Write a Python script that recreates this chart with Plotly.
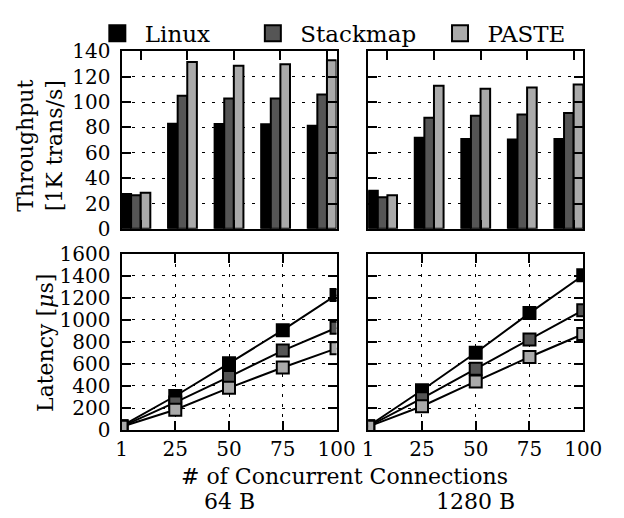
import plotly.graph_objects as go

# ---------------- data ----------------
conns = ["1", "25", "50", "75", "100"]
series = ["Linux", "Stackmap", "PASTE"]
sizes = ["64 B", "1280 B"]

tput_64_linux = [27.5, 83, 82.7, 82.5, 81.4]
tput_64_stackmap = [26.5, 105, 102.8, 102.8, 106]
tput_64_paste = [28.5, 131.7, 128.7, 130, 133]
tput_1280_linux = [30, 72, 71, 70.6, 71]
tput_1280_stackmap = [25, 87.7, 89.2, 90.2, 91.5]
tput_1280_paste = [26.5, 112.9, 110.6, 111.6, 114]

lat_64_linux = [35, 309, 605, 906, 1226]
lat_64_stackmap = [32, 251, 482, 721, 928]
lat_64_paste = [30, 184, 383, 568, 741]
lat_1280_linux = [35, 361, 701, 1061, 1404]
lat_1280_stackmap = [33, 288, 556, 822, 1087]
lat_1280_paste = [31, 216, 441, 663, 871]

colors = ["#000000", "#555555", "#aaaaaa"]

tput = [
    [tput_64_linux, tput_64_stackmap, tput_64_paste],
    [tput_1280_linux, tput_1280_stackmap, tput_1280_paste],
]
lat = [
    [lat_64_linux, lat_64_stackmap, lat_64_paste],
    [lat_1280_linux, lat_1280_stackmap, lat_1280_paste],
]

FONT = "DejaVu Serif"
TICK = 20
TITLE = 22
LEG = 23
W, H = 624, 518

fig = go.Figure()

group_pos = list(range(len(conns)))

# throughput bars
for p in range(2):
    xa = "x" if p == 0 else "x2"
    ya = "y" if p == 0 else "y2"
    for s in range(3):
        fig.add_trace(go.Bar(
            x=group_pos, y=tput[p][s], name=series[s],
            marker=dict(color=colors[s], line=dict(color="black", width=2)),
            xaxis=xa, yaxis=ya, showlegend=False,
        ))

# latency lines
for p in range(2):
    xa = "x3" if p == 0 else "x4"
    ya = "y3" if p == 0 else "y4"
    for s in range(3):
        fig.add_trace(go.Scatter(
            x=conns, y=lat[p][s], name=series[s], mode="lines+markers",
            line=dict(color="black", width=2),
            marker=dict(symbol="square", size=12, color=colors[s],
                        line=dict(color="black", width=2)),
            xaxis=xa, yaxis=ya, showlegend=False,
        ))

# legend entries (one legend per series so each can be placed)
legend_names = ["legend", "legend2", "legend3"]
legend_x = [79, 241, 436]
for s in range(3):
    fig.add_trace(go.Scatter(
        x=[None], y=[None], name=series[s], mode="markers",
        marker=dict(symbol="square", size=16, color=colors[s],
                    line=dict(color="black", width=2)),
        xaxis="x3", yaxis="y3", showlegend=True, legend=legend_names[s],
    ))

# ---------------- layout ----------------
def px_x(a, b):
    return [a / W, b / W]

def px_y(top, bottom):
    return [1 - bottom / H, 1 - top / H]

common = dict(
    showline=True, linecolor="black", linewidth=2, mirror="ticks",
    ticks="inside", ticklen=9, tickwidth=1.5, tickcolor="black",
    zeroline=False, griddash="3px,7px", gridcolor="black", gridwidth=1,
    tickfont=dict(family=FONT, size=TICK, color="black"),
)

bw = (1 - 0.381) / 3

top_x = dict(common, range=[-0.309, len(conns) - 1 + 0.309], showgrid=False,
             showticklabels=False, tickvals=[i + bw / 2 for i in group_pos])
top_y = dict(common, range=[0, 140], dtick=20, showgrid=True,
             ticksuffix="\u2005")
bot_x = dict(common, type="category", range=[0, len(conns) - 1], showgrid=True)
bot_y = dict(common, range=[0, 1600], dtick=200, showgrid=True,
             ticksuffix="\u2005")

legend_common = dict(orientation="h", xanchor="left", y=1 - 14 / H,
                     yanchor="middle", itemsizing="trace", itemwidth=45,
                     font=dict(family=FONT, size=LEG, color="black"),
                     bgcolor="rgba(0,0,0,0)")

fig.update_layout(
    width=W, height=H,
    margin=dict(l=0, r=0, t=0, b=0),
    paper_bgcolor="white", plot_bgcolor="white",
    font=dict(family=FONT, size=TITLE, color="black"),
    barmode="group", bargap=0.381, bargroupgap=0,
    xaxis=dict(top_x, domain=px_x(112, 336), anchor="y"),
    yaxis=dict(top_y, domain=px_y(33, 219), anchor="x"),
    xaxis2=dict(top_x, domain=px_x(369, 593), anchor="y2"),
    yaxis2=dict(top_y, domain=px_y(33, 219), anchor="x2", showticklabels=False),
    xaxis3=dict(bot_x, domain=px_x(112, 336), anchor="y3"),
    yaxis3=dict(bot_y, domain=px_y(245, 430), anchor="x3"),
    xaxis4=dict(bot_x, domain=px_x(369, 593), anchor="y4"),
    yaxis4=dict(bot_y, domain=px_y(245, 430), anchor="x4", showticklabels=False),
    legend=dict(legend_common, x=legend_x[0] / W),
    legend2=dict(legend_common, x=legend_x[1] / W),
    legend3=dict(legend_common, x=legend_x[2] / W),
    showlegend=True,
)

ann = [
    dict(text="Throughput<br>[1K trans/s]", x=27 / W, y=1 - 132 / H, textangle=-90),
    dict(text="Latency [<i>μ</i>s]", x=33 / W, y=1 - 339 / H, textangle=-90),
    dict(text="# of Concurrent Connections", x=344 / W, y=1 - 479 / H),
    dict(text=sizes[0], x=224 / W, y=1 - 505 / H),
    dict(text=sizes[1], x=481 / W, y=1 - 505 / H),
]
for a in ann:
    fig.add_annotation(xref="paper", yref="paper", showarrow=False,
                       xanchor="center", yanchor="middle",
                       font=dict(family=FONT, size=TITLE, color="black"), **a)

fig.write_html("out.html")
